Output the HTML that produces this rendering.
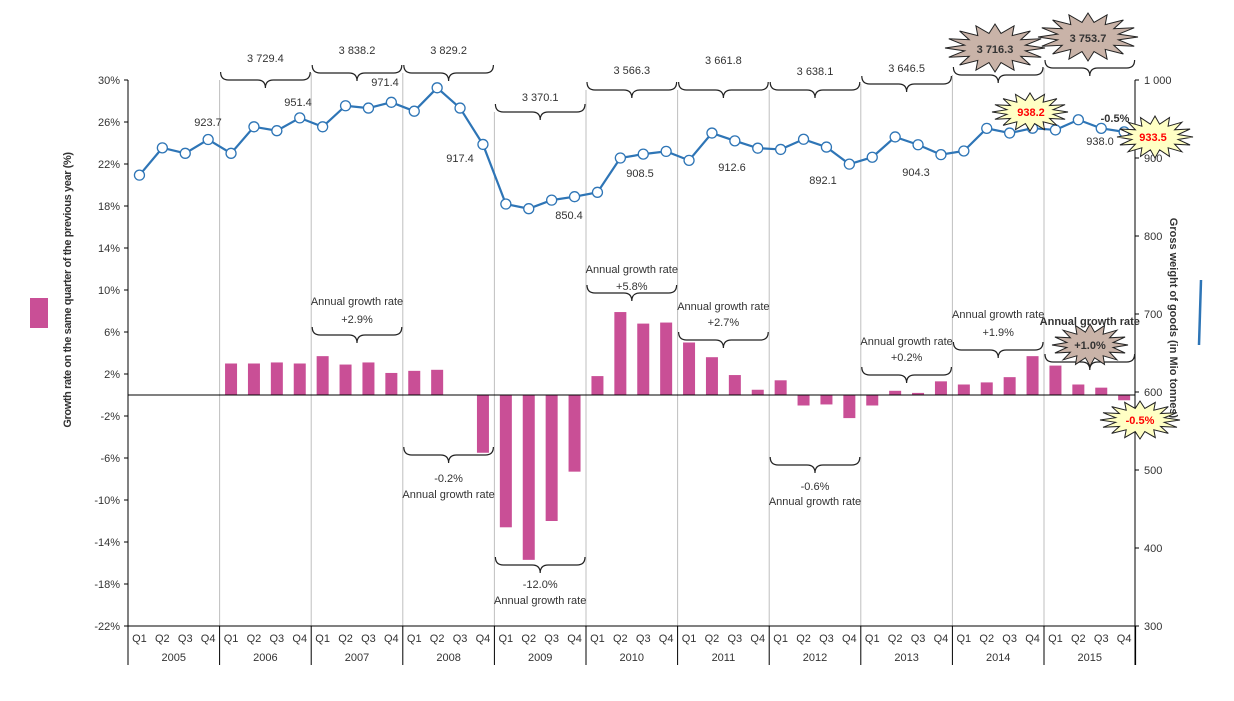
<!DOCTYPE html>
<html><head><meta charset="utf-8">
<style>
body{margin:0;background:#fff;}
svg{display:block;font-family:"Liberation Sans",Arial,sans-serif;}
</style></head>
<body>
<svg id="chart" width="1234" height="701" viewBox="0 0 1234 701" xmlns="http://www.w3.org/2000/svg">
<g id="grid"></g><g id="bars"></g><g id="axes"></g><g id="line"></g><g id="ann"></g>
</svg>
<script>
const years=["2005","2006","2007","2008","2009","2010","2011","2012","2013","2014","2015"];
const quarters=["Q1","Q2","Q3","Q4"];
const weights=[878,913,906,923.7, 906,940,935,951.4, 940,967,964,971.4, 960,990,964,917.4, 841,835,846,850.4, 856,900,905,908.5, 897,932,922,912.6, 911,924,914,892.1, 901,927,917,904.3, 909,938,932,938.2, 936,949,938.0,933.5];
const growth=[null,null,null,null, 3.0,3.0,3.1,3.0, 3.7,2.9,3.1,2.1, 2.3,2.4,0,-5.5, -12.6,-15.7,-12.0,-7.3, 1.8,7.9,6.8,6.9, 5.0,3.6,1.9,0.5, 1.4,-1.0,-0.9,-2.2, -1.0,0.4,0.2,1.3, 1.0,1.2,1.7,3.7, 2.8,1.0,0.7,-0.5];
const leftTicks=[30,26,22,18,14,10,6,2,-2,-6,-10,-14,-18,-22];
const rightTicks=[1000,900,800,700,600,500,400,300];
const annualTotals=["","3 729.4","3 838.2","3 829.2","3 370.1","3 566.3","3 661.8","3 638.1","3 646.5","3 716.3","3 753.7"];
const annualGrowth=["","","+2.9%","-0.2%","-12.0%","+5.8%","+2.7%","-0.6%","+0.2%","+1.9%","+1.0%"];

const X0=128,YW=91.6,QW=YW/4;
const xq=i=>X0+(i+0.5)*QW;
const xy=y=>X0+y*YW;
const yL=p=>395-p*10.5;
const yR=v=>80+(1000-v)*0.78;
const NS="http://www.w3.org/2000/svg";
function mk(parent,tag,attrs,text){const e=document.createElementNS(NS,tag);for(const k in attrs)e.setAttribute(k,attrs[k]);if(text!==undefined)e.textContent=text;document.getElementById(parent).appendChild(e);return e;}
const fmt=v=>v>=1000?"1 "+String(v).slice(1):String(v);

for(let y=1;y<11;y++){
 const g=mk("grid","line",{x1:xy(y),x2:xy(y),y1:[0,80,73,73,112,90,90,90,84,75,68][y],y2:626,stroke:"#bfbfbf","stroke-width":1});
 
 
}
growth.forEach((p,i)=>{
 if(p===null)return;
 const y0=yL(0),y1=yL(p);
 const b=mk("bars","rect",{x:xq(i)-6,y:Math.min(y0,y1),width:12,height:Math.abs(y1-y0),fill:"#c94f96"});
 
 
});
let a=mk("axes","line",{x1:128,x2:128,y1:80,y2:665,stroke:"#000"});

a=mk("axes","line",{x1:1135,x2:1135,y1:80,y2:665,stroke:"#000"});

a=mk("axes","line",{x1:128,x2:1135,y1:626,y2:626,stroke:"#000"});

a=mk("axes","line",{x1:128,x2:1135,y1:yL(0),y2:yL(0),stroke:"#000"});

leftTicks.forEach(t=>{
 mk("axes","line",{x1:124,x2:128,y1:yL(t),y2:yL(t),stroke:"#000"});
 const l=mk("axes","text",{x:120,y:yL(t)+4,"text-anchor":"end","font-size":11,fill:"#333"},t+"%");
 
});
rightTicks.forEach(t=>{
 mk("axes","line",{x1:1135,x2:1139,y1:yR(t),y2:yR(t),stroke:"#000"});
 const l=mk("axes","text",{x:1144,y:yR(t)+4,"font-size":11,fill:"#333"},fmt(t));
 
});
years.forEach((yr,y)=>{
 mk("axes","line",{x1:xy(y+1),x2:xy(y+1),y1:626,y2:665,stroke:"#000"});
 quarters.forEach((q,k)=>{const t=mk("axes","text",{x:xq(y*4+k),y:642,"text-anchor":"middle","font-size":11,fill:"#333"},q);
  });
 const t=mk("axes","text",{x:xy(y)+YW/2,y:661,"text-anchor":"middle","font-size":11,fill:"#333"},yr);
 
});
let t=mk("axes","text",{transform:"translate(71,290) rotate(-90)","text-anchor":"middle","font-size":11,"font-weight":"bold",fill:"#333","letter-spacing":"-0.4"},"Growth rate on the same quarter of the previous year (%)");

t=mk("axes","text",{transform:"translate(1170,318) rotate(90)","text-anchor":"middle","font-size":11,"font-weight":"bold",fill:"#333"},"Gross weight of goods (in Mio tonnes)");

t=mk("axes","rect",{x:30,y:298,width:18,height:30,fill:"#c94f96"});

t=mk("axes","line",{x1:1201,x2:1199,y1:280,y2:345,stroke:"#2e75b6","stroke-width":2.5});


const pts=weights.map((v,i)=>xq(i)+","+yR(v)).join(" ");
t=mk("line","polyline",{points:pts,fill:"none",stroke:"#2e75b6","stroke-width":2.2});

weights.forEach((v,i)=>{const c=mk("line","circle",{cx:xq(i),cy:yR(v),r:5,fill:"#fff",stroke:"#2e75b6","stroke-width":1.3});
 });

function brace(x1,x2,y,dir){
 const m=(x1+x2)/2,h=8*(-dir);
 const d=`M${x1},${y+h} Q${x1},${y} ${x1+8},${y} L${m-8},${y} Q${m},${y} ${m},${y-h} Q${m},${y} ${m+8},${y} L${x2-8},${y} Q${x2},${y} ${x2},${y+h}`;
 const p=mk("ann","path",{d:d,fill:"none",stroke:"#222","stroke-width":1.2});
 
}
function txt(x,y,s,o={}){const e=mk("ann","text",Object.assign({x:x,y:y,"text-anchor":"middle","font-size":11,fill:"#333"},o),s);
 return e;}
function star(cx,cy,rx,ry,fill,n){let p=[];for(let k=0;k<n*2;k++){const a=Math.PI*k/n,f=k%2?0.62:1;p.push((cx+rx*f*Math.cos(a)).toFixed(1)+","+(cy+ry*f*Math.sin(a)).toFixed(1));}
 const e=mk("ann","polygon",{points:p.join(" "),fill:fill,stroke:"#222","stroke-width":1});
 }
const topY=[0,80,73,73,112,90,90,90,84,75,68];
const topLbl=[0,58,50,50,97,70,60,71,68,0,0];
for(let y=1;y<11;y++){
 brace(xy(y)+1,xy(y+1)-1,topY[y],1);
 if(y<9) txt(xy(y)+YW/2,topLbl[y]+4,annualTotals[y]);
}
star(995,48,50,24,"#c9b3a8",16);txt(995,53,annualTotals[9],{"font-weight":"bold"});
star(1088,37,50,24,"#c9b3a8",16);txt(1088,42,annualTotals[10],{"font-weight":"bold"});
const gb=[[2,335,1,301,319],[3,455,-1,478,494],[4,565,-1,584,600],[5,293,1,269,286],[6,340,1,306,322],[7,465,-1,486,501],[8,375,1,341,357],[9,350,1,314,332]];
gb.forEach(([y,by,d,l1,l2])=>{
 const c=xy(y)+YW/2;
 if(d===1){brace(xy(y)+1,xy(y+1)-1,by,1);txt(c,l1+4,"Annual growth rate");txt(c,l2+4,annualGrowth[y]);}
 else{const m=(xy(y)+xy(y+1))/2,x1=xy(y)+1,x2=xy(y+1)-1;
  const dd=`M${x1},${by-8} Q${x1},${by} ${x1+8},${by} L${m-8},${by} Q${m},${by} ${m},${by+8} Q${m},${by} ${m+8},${by} L${x2-8},${by} Q${x2},${by} ${x2},${by-8}`;
  const p=mk("ann","path",{d:dd,fill:"none",stroke:"#222","stroke-width":1.2});
  txt(c,l1+4,annualGrowth[y]);txt(c,l2+4,"Annual growth rate");}
});
brace(xy(10)+1,xy(11)-1,362,1);
star(1090,345,38,21,"#c9b3a8",16);txt(1090,349,annualGrowth[10],{"font-weight":"bold"});
txt(xy(10)+YW/2,325,"Annual growth rate",{"font-weight":"bold"});
star(1140,420,40,19,"#ffffc4",16);txt(1140,424,"-0.5%",{"font-weight":"bold",fill:"#f00"});
star(1030,112,38,19,"#ffffc4",16);txt(1031,116,"938.2",{"font-weight":"bold",fill:"#f00"});
star(1155,137,38,21,"#ffffc4",16);txt(1153,141,"933.5",{"font-weight":"bold",fill:"#f00"});
txt(1115,122,"-0.5%",{"font-weight":"bold"});
txt(1100,145,"938.0");
const vl=[[208,122,"923.7"],[298,102,"951.4"],[385,82,"971.4"],[460,158,"917.4"],[569,215,"850.4"],[640,173,"908.5"],[732,167,"912.6"],[823,180,"892.1"],[916,172,"904.3"]];
vl.forEach(([x,y,s])=>txt(x,y+4,s));
</script>
</body></html>
